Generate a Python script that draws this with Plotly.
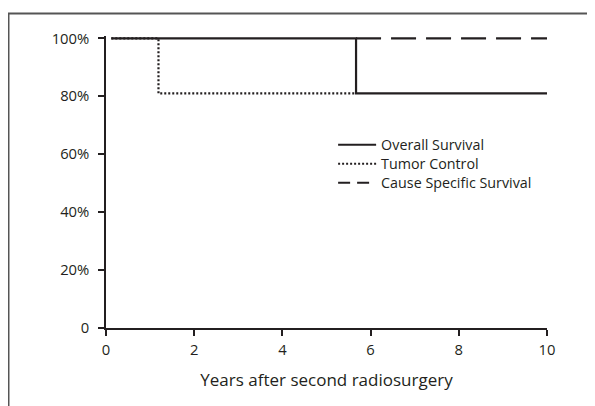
import plotly.graph_objects as go

# Data
overall_x = [0.12, 5.67, 5.67, 10]
overall_y = [1.0, 1.0, 0.81, 0.81]
tumor_x = [0.12, 1.19, 1.19, 5.67]
tumor_y = [1.0, 1.0, 0.81, 0.81]
cause_x = [5.67, 10]
cause_y = [1.0, 1.0]

x_ticks = [0, 2, 4, 6, 8, 10]
y_ticks = [0, 0.2, 0.4, 0.6, 0.8, 1.0]
y_tick_labels = ["0", "20%", "40%", "60%", "80%", "100%"]

FONT = "Open Sans"
INK = "#231f20"

fig = go.Figure()
# actual curves (legend handled by separate legend-only traces)
fig.add_trace(go.Scatter(x=cause_x, y=cause_y, mode="lines", showlegend=False,
                         line=dict(color=INK, width=2.2, dash="25px,10px")))
fig.add_trace(go.Scatter(x=tumor_x, y=tumor_y, mode="lines", showlegend=False,
                         line=dict(color=INK, width=2.2, dash="2px,2px")))
fig.add_trace(go.Scatter(x=overall_x, y=overall_y, mode="lines", showlegend=False,
                         line=dict(color=INK, width=2.2)))
# legend entries, one legend per row for exact spacing
fig.add_trace(go.Scatter(x=[None], y=[None], mode="lines", name="Overall Survival",
                         legend="legend", line=dict(color=INK, width=2)))
fig.add_trace(go.Scatter(x=[None], y=[None], mode="lines", name="Tumor Control",
                         legend="legend2", line=dict(color=INK, width=2, dash="2px,2px")))
fig.add_trace(go.Scatter(x=[None], y=[None], mode="lines", name="Cause Specific Survival",
                         legend="legend3", line=dict(color=INK, width=2, dash="12px,7px")))

# outer frame (left and top edges only)
fig.add_shape(type="path", xref="paper", yref="paper",
              path="M -0.2211,-0.4 L -0.2211,1.077 L 1.3,1.077",
              line=dict(color="#555555", width=2))

def leg(y):
    return dict(x=0.515, y=y, xanchor="left", yanchor="middle",
                font=dict(size=14.3), bgcolor="rgba(0,0,0,0)", itemwidth=38)

fig.update_layout(
    width=595, height=406,
    margin=dict(l=98, r=56, t=28, b=86),
    paper_bgcolor="white", plot_bgcolor="white",
    font=dict(family=FONT, size=14.8, color=INK),
    legend=leg(0.6267), legend2=leg(0.5616), legend3=leg(0.4966),
    xaxis=dict(range=[0, 10], tickvals=x_ticks, showgrid=False, zeroline=False,
               showline=True, linecolor=INK, linewidth=1.5,
               ticks="outside", ticklen=6, tickwidth=1.5, tickcolor=INK,
               ticklabelstandoff=1,
               title=dict(text="Years after second radiosurgery", font=dict(size=17), standoff=17)),
    yaxis=dict(range=[0, 1.008], tickvals=y_ticks, ticktext=y_tick_labels,
               showgrid=False, zeroline=False,
               showline=True, linecolor=INK, linewidth=1.5,
               ticks="outside", ticklen=6, tickwidth=1.5, tickcolor=INK,
               ticklabelstandoff=6),
)

fig.write_html("out.html")
